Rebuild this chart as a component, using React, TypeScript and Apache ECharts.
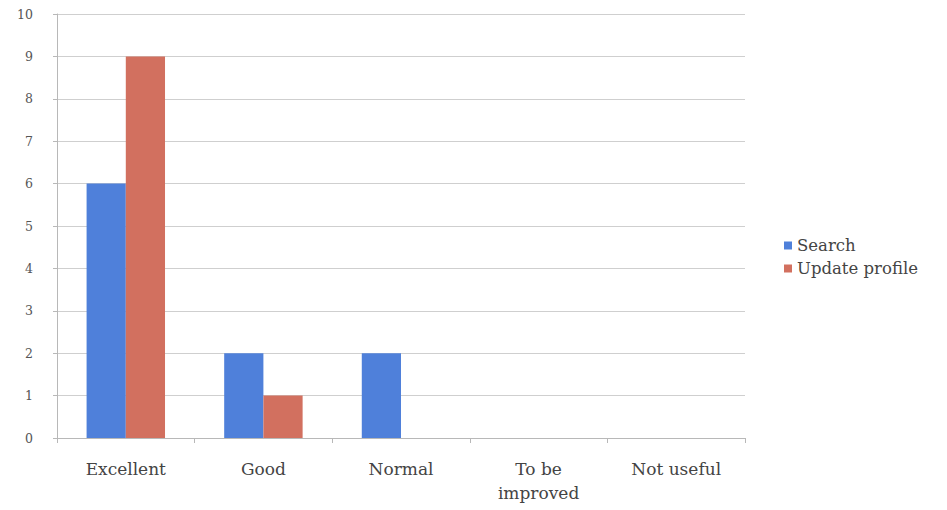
import React, { useEffect, useRef } from "react";
import * as echarts from "echarts";

const categories = ["Excellent", "Good", "Normal", "To be\nimproved", "Not useful"];
const searchValues = [6, 2, 2, 0, 0];
const updateProfileValues = [9, 1, 0, 0, 0];
const seriesNames = ["Search", "Update profile"];

export default function App() {
  const ref = useRef<HTMLDivElement>(null);
  useEffect(() => {
    if (!ref.current) return;
    const chart = echarts.init(ref.current, undefined, { renderer: "svg" });
    const font = "'DejaVu Serif', 'Liberation Serif', serif";
    chart.setOption({
      animation: false,
      backgroundColor: "#ffffff",
      textStyle: { fontFamily: font },
      grid: { left: 57, right: 202, top: 14, bottom: 72, containLabel: false },
      legend: {
        orient: "vertical",
        left: 779,
        top: 232,
        itemWidth: 8,
        itemHeight: 8,
        itemGap: 6,
        icon: "rect",
        textStyle: { fontFamily: font, fontSize: 16.5, color: "#444", padding: [0, 0, 0, 0] },
        data: seriesNames,
      },
      xAxis: {
        type: "category",
        data: categories,
        axisLine: { show: true, lineStyle: { color: "#b8b8b8", width: 1 } },
        axisTick: { show: true, length: 5, alignWithLabel: false, lineStyle: { color: "#b8b8b8" } },
        axisLabel: { fontFamily: font, fontSize: 17, color: "#444", margin: 19, lineHeight: 24, interval: 0 },
      },
      yAxis: {
        type: "value",
        min: 0,
        max: 10,
        interval: 1,
        axisLine: { show: true, lineStyle: { color: "#b8b8b8", width: 1 } },
        axisTick: { show: true, length: 4, lineStyle: { color: "#b8b8b8" } },
        splitLine: { show: true, lineStyle: { color: "#cfcfcf", width: 1 } },
        axisLabel: { fontFamily: font, fontSize: 12.5, color: "#555", margin: 24 },
      },
      series: [
        {
          name: seriesNames[0],
          type: "bar",
          data: searchValues,
          itemStyle: { color: "#4F80DA" },
          barGap: "0%",
          barCategoryGap: "43%",
        },
        {
          name: seriesNames[1],
          type: "bar",
          data: updateProfileValues,
          itemStyle: { color: "#D2705F" },
          barGap: "0%",
          barCategoryGap: "43%",
        },
      ],
    });
    return () => chart.dispose();
  }, []);
  return (
    <div
      ref={ref}
      style={{ position: "absolute", left: 0, top: 0, width: 947, height: 510 }}
    />
  );
}
